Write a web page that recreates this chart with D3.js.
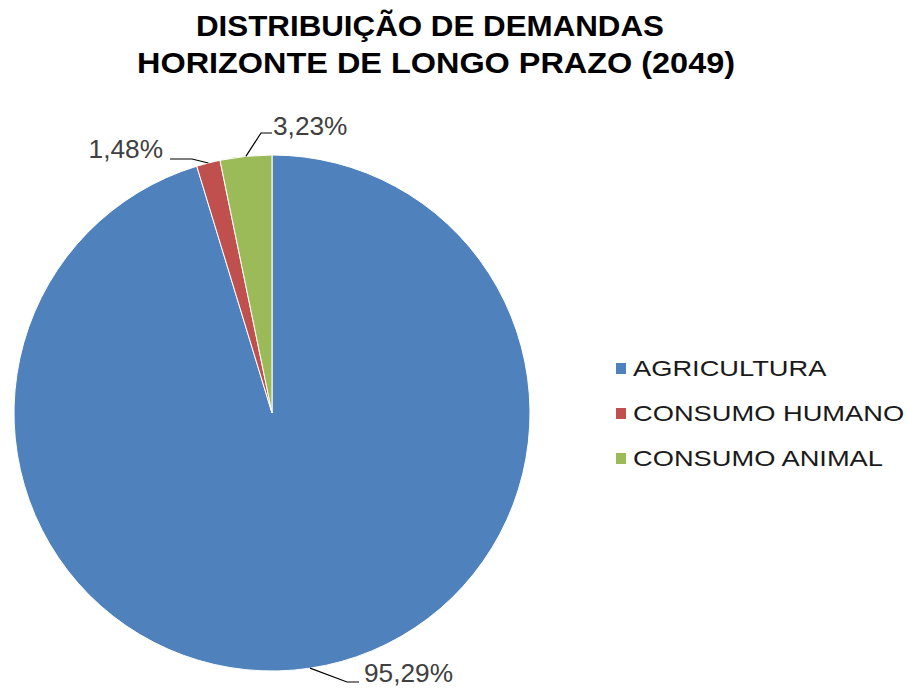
<!DOCTYPE html>
<html><head><meta charset="utf-8">
<script src="https://cdn.jsdelivr.net/npm/d3@7"></script>
<style>body{margin:0;background:#fff}svg{display:block}</style>
</head><body>
<svg id="c" width="907" height="690"></svg>
<script>
const categories = ["AGRICULTURA", "CONSUMO HUMANO", "CONSUMO ANIMAL"];
const values = [95.29, 1.48, 3.23];
const valueLabels = ["95,29%", "1,48%", "3,23%"];
const colors = ["#4F81BD", "#C0504D", "#9BBB59"];
const titleLines = ["DISTRIBUIÇÃO  DE DEMANDAS", "HORIZONTE DE LONGO PRAZO  (2049)"];

const svg = d3.select("#c");
const cx = 272, cy = 413, R = 258;
const font = "'Liberation Sans', Arial, sans-serif";

// title layout
const titleLayout = [{x:430, y:36, len:468}, {x:436, y:73, len:598}];
svg.selectAll("text.title").data(titleLines).join("text")
  .attr("class","title")
  .attr("x", (d,i)=>titleLayout[i].x).attr("y", (d,i)=>titleLayout[i].y)
  .attr("text-anchor","middle")
  .attr("textLength",(d,i)=>titleLayout[i].len).attr("lengthAdjust","spacingAndGlyphs")
  .attr("font-family", font).attr("font-weight","bold").attr("font-size", 30)
  .attr("fill","#000")
  .text(d=>d);

const pie = d3.pie().sort(null).value(d=>d)(values);
const arc = d3.arc().innerRadius(0).outerRadius(R);
const g = svg.append("g").attr("transform",`translate(${cx},${cy})`);
g.selectAll("path").data(pie).join("path")
  .attr("d", arc).attr("fill",(d,i)=>colors[i])
  .attr("stroke","#fff").attr("stroke-width",1);

// label layout: elbow, line end and text baseline position (relative to centre)
const labelLayout = [
  {elbow:[75, 269], end:[87, 269], tx:92, ty:269, anchor:"start"},
  {elbow:[-80, -254], end:[-102, -254], tx:-109, ty:-255, anchor:"end"},
  {elbow:[-11, -280], end:[0, -280], tx:1, ty:-278, anchor:"start"}
];
pie.forEach((d,i)=>{
  const a = (d.startAngle + d.endAngle)/2;
  const p0 = [R*Math.sin(a), -R*Math.cos(a)];
  const L = labelLayout[i];
  g.append("polyline")
    .attr("points", [p0, L.elbow, L.end].map(p=>p.join(",")).join(" "))
    .attr("fill","none").attr("stroke","#000").attr("stroke-width",1.2);
  g.append("text")
    .attr("transform", `translate(${L.tx},${L.ty}) scale(1.05,1)`)
    .attr("text-anchor", L.anchor)
    .attr("font-family", font).attr("font-size", 25).attr("fill","#404040")
    .text(valueLabels[i]);
});

// legend
const lg = svg.append("g").attr("transform","translate(616,0)");
const rows = lg.selectAll("g").data(categories).join("g")
  .attr("transform",(d,i)=>`translate(0,${376 + i*45})`);
rows.append("rect").attr("x",0).attr("y",-13).attr("width",10).attr("height",11)
  .attr("fill",(d,i)=>colors[i]);
rows.append("text").attr("transform","translate(17,0) scale(1.24,1)")
  .attr("font-family", font).attr("font-size", 22).attr("fill","#1a1a1a")
  .text(d=>d);
</script>
</body></html>
